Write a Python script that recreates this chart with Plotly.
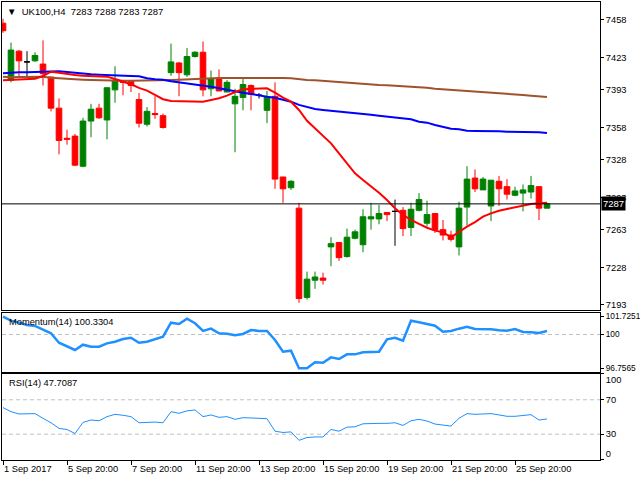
import plotly.graph_objects as go

symbol = "UK100,H4"

opens = [7455, 7402, 7429, 7419, 7420, 7417, 7405, 7376, 7348, 7350,
         7322, 7364, 7376, 7365, 7393, 7401, 7401, 7384, 7361, 7371,
         7369, 7409, 7418, 7407, 7424, 7428, 7394, 7403, 7391, 7380,
         7386, 7397, 7388, 7374, 7387, 7312, 7302, 7283, 7200, 7216,
         7218, 7247, 7251, 7238, 7255, 7249, 7273, 7273, 7279, 7280,
         7281, 7265, 7281, 7269, 7278, 7263, 7258, 7247, 7284, 7311,
         7300, 7285, 7308, 7303, 7295, 7297, 7298, 7303, 7283]
highs = [7459, 7437, 7430, 7429, 7428, 7439, 7405, 7385, 7356, 7352,
         7367, 7380, 7380, 7395, 7415, 7402, 7401, 7390, 7377, 7387,
         7371, 7436, 7419, 7432, 7429, 7438, 7411, 7412, 7402, 7394,
         7404, 7398, 7390, 7392, 7400, 7312, 7309, 7288, 7224, 7224,
         7223, 7256, 7251, 7264, 7263, 7282, 7288, 7286, 7279, 7291,
         7284, 7288, 7297, 7290, 7278, 7272, 7262, 7289, 7322, 7319,
         7312, 7309, 7313, 7310, 7303, 7305, 7313, 7303, 7288]
lows = [7446, 7400, 7405, 7405, 7419, 7397, 7373, 7333, 7342, 7322,
        7321, 7349, 7366, 7347, 7381, 7388, 7391, 7358, 7359, 7366,
        7357, 7406, 7387, 7405, 7423, 7387, 7387, 7392, 7391, 7335,
        7374, 7374, 7385, 7362, 7301, 7288, 7300, 7195, 7198, 7208,
        7212, 7229, 7234, 7237, 7254, 7242, 7263, 7268, 7271, 7248,
        7257, 7257, 7280, 7266, 7260, 7253, 7252, 7239, 7267, 7298,
        7300, 7271, 7285, 7291, 7294, 7280, 7292, 7272, 7283]
closes = [7448, 7430, 7420, 7419, 7425, 7408, 7376, 7346, 7347, 7323,
          7364, 7375, 7367, 7395, 7402, 7400, 7397, 7362, 7373, 7370,
          7358, 7419, 7409, 7424, 7428, 7393, 7403, 7392, 7400, 7387,
          7398, 7389, 7388, 7386, 7310, 7301, 7308, 7199, 7217, 7219,
          7216, 7250, 7237, 7256, 7261, 7275, 7275, 7278, 7277, 7280,
          7264, 7282, 7291, 7277, 7263, 7258, 7254, 7283, 7310, 7301,
          7310, 7309, 7301, 7296, 7299, 7300, 7304, 7283, 7287]

ma_red = [7401.9, 7402.2, 7402.9, 7403.1, 7403.4, 7405.9, 7409.9, 7409.0, 7407.8, 7406.9,
          7406.2, 7405.9, 7405.9, 7405.3, 7403.1, 7400.6, 7398.2, 7394.8, 7392.3, 7388.3,
          7384.3, 7382.7, 7382.4, 7382.4, 7382.0, 7382.0, 7383.6, 7385.2, 7387.6, 7391.0,
          7393.6, 7393.9, 7394.5, 7394.5, 7390.4, 7385.7, 7382.0, 7374.3, 7364.3, 7357.3,
          7351.1, 7343.3, 7334.0, 7324.7, 7315.4, 7309.2, 7303.6, 7297.4, 7290.6, 7282.9,
          7276.7, 7272.0, 7268.3, 7264.8, 7262.1, 7260.6, 7255.9, 7261.1, 7265.8, 7270.1,
          7275.1, 7278.2, 7280.6, 7282.2, 7283.8, 7285.9, 7286.9, 7287.5, 7288.1]
ma_blue = [7408.4, 7409.0, 7409.4, 7409.4, 7409.6, 7409.9, 7410.6, 7410.3, 7409.6, 7408.7,
           7407.8, 7407.5, 7407.1, 7406.9, 7406.9, 7406.6, 7405.9, 7405.6, 7403.8, 7402.9,
           7402.5, 7401.0, 7400.1, 7399.1, 7398.2, 7397.6, 7396.0, 7394.5, 7392.9, 7391.3,
           7390.4, 7389.2, 7388.3, 7386.7, 7385.7, 7384.1, 7382.0, 7379.0, 7376.8, 7375.2,
           7374.3, 7373.6, 7373.1, 7372.7, 7371.8, 7370.9, 7369.9, 7369.0, 7368.1, 7367.1,
           7366.6, 7365.7, 7363.4, 7362.5, 7360.4, 7358.8, 7356.9, 7356.4, 7355.0, 7354.8,
           7354.8, 7354.8, 7354.5, 7354.1, 7354.1, 7353.8, 7353.8, 7353.6, 7352.9]
ma_brown = [7405.3, 7404.7, 7405.0, 7405.0, 7405.3, 7405.3, 7404.3, 7403.8, 7402.9, 7402.5,
            7402.5, 7402.2, 7401.9, 7401.5, 7401.5, 7401.5, 7401.5, 7401.5, 7401.5, 7401.5,
            7401.5, 7402.2, 7402.5, 7402.9, 7403.1, 7403.8, 7404.1, 7404.1, 7404.1, 7404.1,
            7404.1, 7404.3, 7404.7, 7404.7, 7404.3, 7404.1, 7403.8, 7402.9, 7402.2, 7401.9,
            7401.3, 7400.6, 7400.1, 7399.4, 7399.1, 7398.5, 7397.8, 7397.6, 7397.3, 7396.9,
            7396.6, 7396.0, 7395.7, 7395.0, 7394.1, 7393.6, 7392.9, 7392.6, 7392.3, 7391.7,
            7391.3, 7390.8, 7390.4, 7389.8, 7389.2, 7388.2, 7387.6, 7387.3, 7386.4]

momentum = [101.7251, 101.33, 101.14, 100.91, 100.82, 100.43, 100.12, 99.21, 98.83, 98.51,
            99.02, 98.83, 98.83, 99.15, 99.31, 99.57, 99.69, 99.21, 99.31, 99.54,
            99.79, 101.14, 101.01, 101.52, 101.08, 100.34, 100.56, 100.12, 100.08, 99.92,
            100.05, 100.43, 100.34, 100.34, 99.47, 98.34, 98.44, 96.7565, 96.76, 97.32,
            97.28, 97.80, 97.64, 98.09, 98.09, 98.29, 98.34, 98.34, 99.54, 99.69,
            99.40, 101.33, 101.17, 101.01, 100.85, 100.27, 100.34, 100.56, 100.75, 100.53,
            100.53, 100.50, 100.40, 100.37, 100.53, 100.24, 100.21, 100.14, 100.3304]
rsi = [60.9, 56.2, 53.5, 53.5, 53.9, 48.5, 43.3, 36.7, 35.5, 30.8,
       43.7, 46.5, 45.6, 50.4, 53.1, 52.0, 50.4, 43.3, 44.1, 44.1,
       43.3, 56.2, 54.3, 57.1, 58.2, 50.4, 52.4, 49.6, 50.4, 47.3,
       49.2, 49.2, 48.5, 48.0, 33.5, 32.0, 32.7, 22.9, 26.1, 26.8,
       26.8, 35.5, 33.5, 38.2, 38.6, 42.1, 42.6, 42.6, 42.6, 43.3,
       40.2, 45.6, 47.3, 45.3, 41.8, 40.6, 39.4, 48.5, 53.9, 53.1,
       53.9, 53.9, 52.4, 50.8, 50.8, 51.5, 52.7, 46.5, 47.7087]

price_ticks = [7458, 7423, 7393, 7358, 7328, 7293, 7263, 7228, 7193]
mom_ticks = [101.7251, 100, 96.7565]
mom_levels = [100]
rsi_ticks = [100, 70, 30, 0]
rsi_levels = [70, 30]
x_tick_idx = [0, 8, 16, 24, 32, 40, 48, 56, 64]
x_tick_text = ["1 Sep 2017", "5 Sep 20:00", "7 Sep 20:00", "11 Sep 20:00", "13 Sep 20:00",
               "15 Sep 20:00", "19 Sep 20:00", "21 Sep 20:00", "25 Sep 20:00"]

n = len(closes)
x = list(range(n))
GREEN = "#008000"
RED = "#FF0000"
FONT = "Liberation Sans, Arial, DejaVu Sans, sans-serif"

normal = [i for i in x if opens[i] != closes[i]]
doji = [i for i in x if opens[i] == closes[i]]

fig = go.Figure()
fig.add_trace(go.Candlestick(
    x=normal, open=[opens[i] for i in normal], high=[highs[i] for i in normal],
    low=[lows[i] for i in normal], close=[closes[i] for i in normal],
    increasing=dict(line=dict(color=GREEN, width=1), fillcolor=GREEN),
    decreasing=dict(line=dict(color=RED, width=1), fillcolor=RED),
    xaxis="x", yaxis="y", hoverinfo="skip"))
fig.add_trace(go.Candlestick(
    x=doji, open=[opens[i] for i in doji], high=[highs[i] for i in doji],
    low=[lows[i] for i in doji], close=[closes[i] for i in doji],
    increasing=dict(line=dict(color="black", width=1), fillcolor="black"),
    decreasing=dict(line=dict(color="black", width=1), fillcolor="black"),
    xaxis="x", yaxis="y", hoverinfo="skip"))
fig.add_trace(go.Scatter(x=x, y=ma_brown, mode="lines", line=dict(color="#A0522D", width=2), xaxis="x", yaxis="y"))
fig.add_trace(go.Scatter(x=x, y=ma_blue, mode="lines", line=dict(color="#0000FF", width=2), xaxis="x", yaxis="y"))
fig.add_trace(go.Scatter(x=x, y=ma_red, mode="lines", line=dict(color="#FF0000", width=2), xaxis="x", yaxis="y"))
fig.add_trace(go.Scatter(x=x, y=momentum, mode="lines", line=dict(color="#1E90FF", width=2.5), xaxis="x2", yaxis="y2"))
fig.add_trace(go.Scatter(x=x, y=rsi, mode="lines", line=dict(color="#1E90FF", width=1), xaxis="x3", yaxis="y3"))

xr = [-0.125, 74.625]
axis_common = dict(showline=True, mirror=True, linecolor="black", linewidth=1,
                   showgrid=False, zeroline=False, automargin=False)
fig.update_layout(
    width=640, height=480, margin=dict(l=2, r=40, t=2, b=20, autoexpand=False),
    paper_bgcolor="white", plot_bgcolor="white", showlegend=False,
    boxgap=0.3, boxgroupgap=0,
    font=dict(family=FONT, size=9, color="black"),
    xaxis=dict(domain=[0, 1], range=xr, anchor="y", showticklabels=False,
               rangeslider=dict(visible=False), **axis_common),
    xaxis2=dict(domain=[0, 1], range=xr, anchor="y2", showticklabels=False,
                matches="x", **axis_common),
    xaxis3=dict(domain=[0, 1], range=xr, anchor="y3", matches="x",
                tickvals=x_tick_idx, ticktext=x_tick_text, ticks="outside", ticklen=4,
                tickcolor="black", ticklabelposition="outside right", tickangle=0,
                tickfont=dict(size=9.3), **axis_common),
    yaxis=dict(domain=[0.3275, 1], range=[7188.3, 7474.7], side="right", anchor="x",
               tickvals=price_ticks, ticktext=[str(v) for v in price_ticks],
               ticks="outside", ticklen=3, tickcolor="black", tickfont=dict(size=9.3),
               **axis_common),
    yaxis2=dict(domain=[0.1921, 0.3210], range=[96.39, 102.07], side="right", anchor="x2",
                tickvals=mom_ticks, ticktext=["101.7251", "100", "96.7565"],
                ticks="outside", ticklen=3, tickcolor="black", tickfont=dict(size=8.3),
                **axis_common),
    yaxis3=dict(domain=[0, 0.1878], range=[0, 100], side="right", anchor="x3",
                tickvals=rsi_ticks, ticktext=["<br>100", "70", "30", "0<br> "],
                ticks="outside", ticklen=3, tickcolor="black", tickfont=dict(size=9.3),
                **axis_common),
)

shapes = [dict(type="line", xref="x domain", x0=0, x1=1, yref="y", y0=closes[-1], y1=closes[-1],
               line=dict(color="black", width=1), layer="above")]
for lv in mom_levels:
    shapes.append(dict(type="line", xref="x2 domain", x0=0, x1=1, yref="y2", y0=lv, y1=lv,
                       line=dict(color="#C0C0C0", width=1, dash="4px,3px"), layer="below"))
for lv in rsi_levels:
    shapes.append(dict(type="line", xref="x3 domain", x0=0, x1=1, yref="y3", y0=lv, y1=lv,
                       line=dict(color="#C0C0C0", width=1, dash="4px,3px"), layer="below"))
fig.update_layout(shapes=shapes)

title = "▼  %s  %d %d %d %d" % (symbol, opens[-1], highs[-1], lows[-1], closes[-1])
fig.add_annotation(x=0.005, y=0.9803, xref="paper", yref="paper", text=title, showarrow=False,
                   xanchor="left", yanchor="middle", font=dict(size=9.5, color="black"))
fig.add_annotation(x=0.008, y=0.302, xref="paper", yref="paper",
                   text="Momentum(14) %.4f" % momentum[-1], showarrow=False,
                   xanchor="left", yanchor="middle", font=dict(size=9.3, color="black"))
fig.add_annotation(x=0.008, y=0.1688, xref="paper", yref="paper",
                   text="RSI(14) %.4f" % rsi[-1], showarrow=False,
                   xanchor="left", yanchor="middle", font=dict(size=9.3, color="black"))
fig.add_annotation(x=1, xref="paper", y=closes[-1], yref="y", text="%d" % closes[-1],
                   showarrow=False, xanchor="left", yanchor="middle", xshift=1,
                   bgcolor="black", borderpad=1, font=dict(size=9.5, color="white"))

fig.write_html("out.html", config={"displayModeBar": False},
               post_script="document.body.style.margin='0';document.body.style.overflow='hidden';")
